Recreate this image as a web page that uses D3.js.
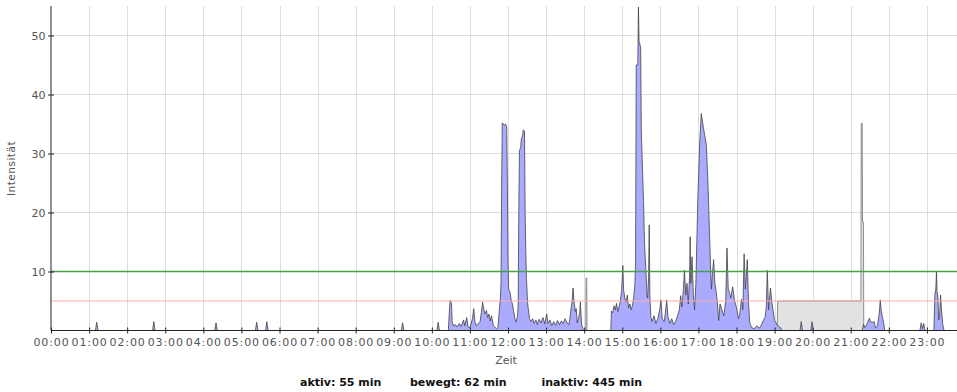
<!DOCTYPE html>
<html>
<head>
<meta charset="utf-8">
<script src="https://cdn.jsdelivr.net/npm/d3@7"></script>
<style>
  html, body { margin: 0; padding: 0; background: #fff; }
  svg { display: block; }
</style>
</head>
<body>
<svg id="chart" width="957" height="392"></svg>
<script>
// Minutes after midnight for each hour tick, and their labels
const hourTicks = [0, 60, 120, 180, 240, 300, 360, 420, 480, 540, 600, 660,
                   720, 780, 840, 900, 960, 1020, 1080, 1140, 1200, 1260, 1320, 1380];
const hourLabels = ["00:00", "01:00", "02:00", "03:00", "04:00", "05:00", "06:00", "07:00",
                    "08:00", "09:00", "10:00", "11:00", "12:00", "13:00", "14:00", "15:00",
                    "16:00", "17:00", "18:00", "19:00", "20:00", "21:00", "22:00", "23:00"];
const levelTicks = [10, 20, 30, 40, 50];

// Reference levels: activity goal and movement threshold
const goalLevel = 10;
const moveLevel = 5;

// Measured intensity over the day: [minute, intensity]
const activity = [
  [0, 0],
  [70, 0], [72, 1.4], [74, 0],
  [160, 0], [162, 1.5], [164, 0],
  [258, 0], [260, 1.3], [262, 0],
  [322, 0], [324, 1.4], [326, 0],
  [338, 0], [340, 1.5], [342, 0],
  [552, 0], [554, 1.3], [556, 0],
  [608, 0], [610, 1.4], [612, 0],
  [626, 0], [628, 4.0], [629, 5.1], [631, 4.6], [632, 1.5], [634, 0.8], [637, 1.0], [640, 0.6],
  [643, 1.2], [646, 0.7], [650, 1.8], [652, 0.8], [655, 2.2], [657, 0.6], [660, 0.5], [664, 2.0],
  [666, 3.7], [668, 1.5], [670, 0.8], [676, 1.5], [678, 3.0], [680, 4.8], [682, 3.5], [684, 2.8],
  [686, 3.4], [688, 2.2], [690, 2.8], [692, 1.6], [694, 2.5], [697, 0.8], [702, 0.3], [704, 0.5],
  [706, 3.0], [708, 5.5], [709, 8.0], [710, 24.4], [711, 35.2], [714, 34.8], [716, 35.0], [718, 34.5],
  [719, 25.0], [720, 12.0], [721, 7.0], [723, 6.6], [725, 5.2], [727, 4.5], [729, 3.2], [731, 2.0],
  [733, 1.4], [735, 2.5], [736, 4.0], [737, 20.0], [738, 30.5], [740, 31.0], [741, 32.5], [743, 33.0],
  [744, 34.0], [746, 33.8], [747, 20.0], [748, 13.6], [749, 9.0], [751, 4.5], [754, 2.0], [756, 1.5],
  [759, 2.0], [761, 1.2], [764, 1.8], [766, 1.0], [769, 1.9], [772, 1.3], [775, 2.2], [778, 1.1],
  [781, 2.8], [783, 1.2], [786, 1.8], [789, 0.8], [792, 1.5], [795, 0.9], [798, 1.7], [801, 1.0],
  [804, 1.6], [807, 1.2], [810, 2.0], [813, 1.3], [816, 1.0], [818, 2.5], [819.5, 3.8], [821, 5.0],
  [822.5, 7.2], [824, 5.0], [826, 3.2], [827.5, 3.7], [829, 1.3], [831, 2.0], [833, 3.0], [834, 4.8],
  [836, 1.0], [838, 0.3], [840, 0],
  [882, 0], [883, 3.3], [885, 3.0], [887, 4.2], [889, 3.5], [891, 4.6], [893, 3.2], [895, 4.0],
  [897, 5.0], [899, 6.8], [901, 11.0], [902, 7.0], [904, 5.5], [906, 4.8], [908, 6.0], [910, 3.8],
  [912, 4.5], [914, 3.5], [916, 4.2], [918, 5.6], [920, 8.0], [921, 12.0], [922, 45.0], [924.5, 45.0],
  [925.5, 54.8], [926.5, 49.0], [929, 48.0], [930, 34.0], [932, 27.0], [933.5, 22.0], [935, 15.0],
  [937, 10.8], [939, 6.0], [940, 5.5], [941.5, 9.0], [942.5, 17.9], [943.5, 6.0], [945, 2.3],
  [947, 1.5], [950, 2.5], [953, 1.2], [956, 2.0], [959, 3.5], [961, 5.2], [963, 2.0], [966, 1.5],
  [968, 3.0], [970, 5.2], [972, 2.4], [975, 1.2], [978, 2.0], [981, 1.0], [984, 1.5], [987, 2.5],
  [990, 3.5], [992, 5.9], [994, 4.0], [996, 6.5], [998, 10.2], [1000, 6.0], [1002, 8.0], [1004, 4.5],
  [1006, 9.0], [1007, 15.9], [1008, 8.0], [1010, 12.5], [1012, 6.0], [1014, 3.5], [1016, 8.0],
  [1019, 22.0], [1022, 31.7], [1024.5, 36.8], [1027, 35.0], [1030, 33.0], [1032.5, 31.5], [1035, 25.0],
  [1037.5, 16.5], [1039, 11.0], [1040.5, 7.0], [1042, 9.5], [1044, 12.0], [1046, 8.0], [1048, 6.6],
  [1050, 4.5], [1052, 1.7], [1054, 4.5], [1057, 3.5], [1060, 2.5], [1063, 5.0], [1065, 14.0],
  [1067, 7.0], [1069, 6.4], [1071, 5.5], [1074, 7.4], [1077, 5.0], [1080, 3.9], [1083, 2.0],
  [1085, 2.7], [1088, 5.3], [1090, 3.5], [1092, 13.0], [1094, 7.0], [1097, 12.0], [1099, 4.5],
  [1101, 1.2], [1104, 0.5], [1108, 0.3], [1112, 0.8], [1116, 0.4], [1119, 0.9], [1122, 1.7],
  [1125, 2.2], [1127, 4.0], [1128.5, 10.2], [1130.5, 3.5], [1133.5, 7.2], [1136, 4.6], [1140, 1.7],
  [1145, 0.8], [1150, 0.4], [1151, 0],
  [1180, 0], [1182, 1.5], [1184, 0],
  [1197, 0], [1199, 1.5], [1201, 0],
  [1278, 0], [1280, 1.0], [1282, 0.5], [1286, 1.2], [1289.5, 2.1], [1291, 1.5], [1294, 1.4],
  [1297, 1.5], [1299, 0.4], [1302, 0.8], [1305, 3.0], [1306.5, 5.2], [1308, 3.4], [1310, 2.2],
  [1312, 1.2], [1313.5, 0],
  [1369, 0], [1371, 1.3], [1373, 0.3], [1375, 1.2], [1377, 0],
  [1391, 0], [1392.5, 6.0], [1394, 7.0], [1395, 10.0], [1396, 6.6], [1397.5, 5.5], [1398.5, 1.8],
  [1400, 2.5], [1401.5, 6.0], [1403, 3.5], [1405, 1.0], [1407, 0]
];

// Rest / non-wear readings: [minute, intensity]
const restPeriod = [
  [842.5, 0], [843, 8.9], [844, 8.9], [844.5, 0],
  [1144, 0], [1145, 5], [1276, 5], [1276.5, 35.1], [1278, 35.1], [1278.5, 18.4], [1280, 18.4], [1280.5, 0]
];

// Daily summary line
const summaryTexts = ["aktiv: 55 min", "bewegt: 62 min", "inaktiv: 445 min"];

const svg = d3.select("#chart");
const W = 957;

const x = d3.scaleLinear().domain([0, 1440]).range([51, 965]);
const y = d3.scaleLinear().domain([0, 55]).range([330.5, 6]);
const crisp = v => Math.round(v) + 0.5;

svg.append("rect").attr("width", W).attr("height", 392).attr("fill", "#fff");

// Grid
const grid = svg.append("g").attr("class", "grid");
grid.selectAll("line.v").data(hourTicks.slice(1)).join("line")
  .attr("class", "v")
  .attr("x1", d => crisp(x(d))).attr("x2", d => crisp(x(d)))
  .attr("y1", y(55)).attr("y2", y(0))
  .attr("stroke", "#dedede").attr("stroke-width", 1);
grid.selectAll("line.h").data(levelTicks.filter(v => v !== goalLevel)).join("line")
  .attr("class", "h")
  .attr("x1", x(0)).attr("x2", W)
  .attr("y1", d => y(d)).attr("y2", d => y(d))
  .attr("stroke", "#dedede").attr("stroke-width", 1);

// Series
const area = d3.area().x(d => x(d[0])).y0(y(0)).y1(d => y(d[1]));
const line = d3.line().x(d => x(d[0])).y(d => y(d[1]));

svg.append("path").datum(restPeriod)
  .attr("d", area)
  .attr("fill", "#e2e2e2");
svg.append("path").datum(restPeriod)
  .attr("d", line)
  .attr("fill", "none").attr("stroke", "#8c8c8c").attr("stroke-width", 1);

svg.append("path").datum(activity)
  .attr("d", area)
  .attr("fill", "#aaaaff");
svg.append("path").datum(activity)
  .attr("d", line)
  .attr("fill", "none").attr("stroke", "#3c3c3c").attr("stroke-width", 0.9)
  .attr("stroke-linejoin", "round").attr("stroke-opacity", 0.85);

// Threshold lines
svg.append("line")
  .attr("class", "threshold-move")
  .attr("x1", x(0)).attr("x2", W)
  .attr("y1", y(moveLevel)).attr("y2", y(moveLevel))
  .style("stroke", "#ffaaaa").style("stroke-width", "1.2px");
svg.append("line")
  .attr("class", "threshold-goal")
  .attr("x1", x(0)).attr("x2", W)
  .attr("y1", y(goalLevel)).attr("y2", y(goalLevel))
  .style("stroke", "#48a048").style("stroke-width", "1.3px");

// Axes
const xAxis = d3.axisBottom(x)
  .tickValues(hourTicks)
  .tickFormat((d, i) => hourLabels[i])
  .tickSizeInner(3).tickSizeOuter(0);
const gx = svg.append("g").attr("transform", `translate(0,${y(0)})`).call(xAxis);
gx.select(".domain").attr("stroke", "#222").attr("d", `M${x(0)},0H${W}`);
gx.selectAll(".tick line").attr("y1", -3).attr("y2", 3).attr("stroke", "#222");
gx.selectAll(".tick text")
  .attr("y", 15.5).attr("dy", null)
  .attr("fill", "#555")
  .style("font-family", "DejaVu Sans")
  .style("font-size", "11px")
  .style("letter-spacing", "0.9px");

const yAxis = d3.axisLeft(y)
  .tickValues(levelTicks)
  .tickSizeInner(3).tickSizeOuter(0);
const gy = svg.append("g").attr("transform", `translate(${x(0)},0)`).call(yAxis);
gy.select(".domain").attr("stroke", "#222").attr("d", `M0,${y(55)}V${y(0)}`);
gy.selectAll(".tick line").attr("x1", -3).attr("x2", 3).attr("stroke", "#222");
gy.selectAll(".tick text")
  .attr("x", -5.5)
  .attr("fill", "#555")
  .style("font-family", "DejaVu Sans")
  .style("font-size", "11px");

// Axis titles
svg.append("text")
  .attr("transform", "translate(15,168.5) rotate(-90)")
  .attr("text-anchor", "middle")
  .attr("fill", "#555")
  .style("font-family", "DejaVu Sans")
  .style("font-size", "10.5px")
  .style("letter-spacing", "0.5px")
  .text("Intensität");

svg.append("text")
  .attr("x", 506).attr("y", 364)
  .attr("text-anchor", "middle")
  .attr("fill", "#555")
  .style("font-family", "DejaVu Sans")
  .style("font-size", "11px")
  .text("Zeit");

// Summary
const summaryX = [300, 410, 541.5];
svg.selectAll("text.summary").data(summaryTexts).join("text")
  .attr("class", "summary")
  .attr("x", (d, i) => summaryX[i]).attr("y", 386)
  .attr("fill", "#111")
  .style("font-family", "DejaVu Sans")
  .style("font-size", "11px")
  .style("font-weight", "bold")
  .text(d => d);
</script>
</body>
</html>
